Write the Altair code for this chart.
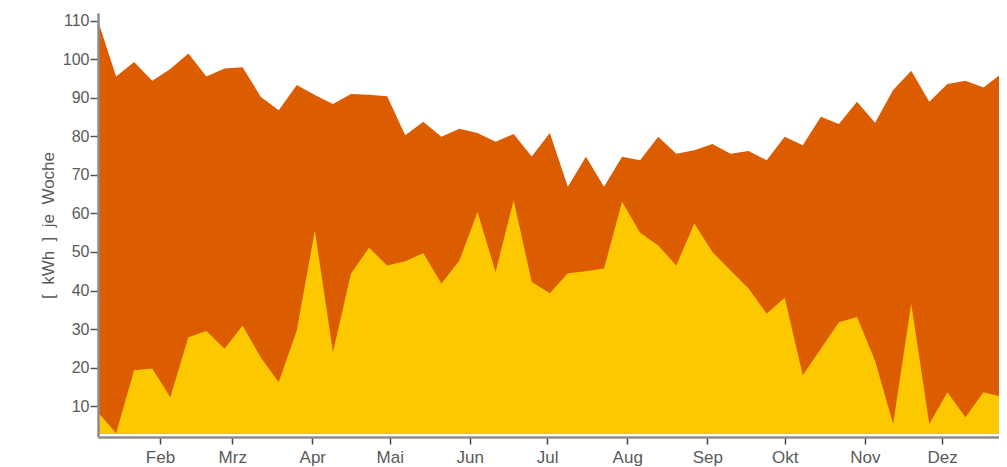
import altair as alt
import pandas as pd

# weekly dates (x categories)
weeks = pd.date_range("2013-01-08", periods=52, freq="7D").strftime("%Y-%m-%d").tolist()

# total weekly consumption (orange)
total = [110, 95.5, 99.3, 94.4, 97.5, 101.5, 95.5, 97.6, 97.9, 90.3, 86.8, 93.3, 90.7,
         88.4, 91.0, 90.8, 90.4, 80.3, 83.8, 79.9, 82.0, 80.9, 78.6, 80.6, 74.8, 80.9,
         66.9, 74.7, 66.9, 74.7, 73.8, 79.9, 75.5, 76.4, 78.0, 75.5, 76.2, 73.8, 79.9,
         77.7, 85.1, 83.2, 89.0, 83.5, 92.0, 97.0, 89.0, 93.6, 94.4, 92.7, 96.3, 94.0]

# share (yellow)
part = [8.4, 3.0, 19.3, 19.8, 12.3, 27.9, 29.5, 24.9, 30.9, 22.7, 16.2, 29.6, 55.6,
        24.0, 44.4, 51.1, 46.5, 47.6, 49.7, 41.8, 47.8, 60.4, 44.8, 63.4, 42.2, 39.3,
        44.5, 45.0, 45.7, 63.0, 55.0, 51.7, 46.5, 57.4, 50.0, 45.2, 40.5, 34.0, 38.1,
        18.0, 24.9, 31.8, 33.1, 21.8, 5.4, 36.6, 5.4, 13.6, 7.1, 13.6, 12.5, 10.5]

month_names = ["Jan", "Feb", "Mrz", "Apr", "Mai", "Jun", "Jul", "Aug", "Sep", "Okt", "Nov", "Dez"]
y_ticks = [10, 20, 30, 40, 50, 60, 70, 80, 90, 100, 110]
y_title = "[\u00a0 kWh\u00a0 ]\u00a0 je\u00a0 Woche"

df = pd.DataFrame({"Woche": weeks, "Gesamt": total, "Anteil": part})

label_expr = "[" + ",".join("'%s'" % m for m in month_names) + "][utcmonth(datum.value)]"

x_axis = alt.Axis(
    values=[alt.DateTime(year=2013, month=m, date=1, utc=True) for m in range(2, 13)],
    labelExpr=label_expr,
    title=None, grid=False,
    tickSize=7, tickColor="#444444", tickWidth=1.5,
    domainColor="#8c8c8c", domainWidth=2.5,
    labelFont="Liberation Sans", labelFontSize=17, labelColor="#5a5a5a",
    labelPadding=5, zindex=1,
)
x_scale = alt.Scale(
    type="utc",
    domain=[alt.DateTime(year=2013, month=1, date=8, utc=True),
            alt.DateTime(year=2013, month=12, date=23, utc=True)],
)

y_axis = alt.Axis(
    values=y_ticks, grid=False,
    tickSize=8, tickColor="#555555", tickWidth=1.5,
    domainColor="#8c8c8c", domainWidth=2.5,
    labelFont="Liberation Sans", labelFontSize=16, labelColor="#5a5a5a",
    labelPadding=1,
    title=y_title, titleFont="Liberation Sans", titleFontSize=17,
    titleFontWeight="normal", titleColor="#5a5a5a",
    titleX=-50, titleBaseline="middle", zindex=1,
)
y_scale = alt.Scale(domain=[2, 112], zero=False, nice=False)

base = alt.Chart(df).encode(x=alt.X("Woche:T", scale=x_scale, axis=x_axis))

orange = base.mark_area(color="#DC5C00", clip=True).encode(
    y=alt.Y("Gesamt:Q", scale=y_scale, axis=y_axis),
    y2=alt.datum(2.9),
)
yellow = base.mark_area(color="#FCC800", clip=True).encode(
    y=alt.Y("Anteil:Q", scale=y_scale),
    y2=alt.datum(2.9),
)

chart = alt.layer(orange, yellow).properties(
    width=901, height=424,
    autosize=alt.AutoSizeParams(type="none"),
    padding={"left": 90, "top": 5, "right": 0, "bottom": 30},
).configure_view(stroke=None)

chart.save("out.html", embed_options={"renderer": "svg", "actions": False})
